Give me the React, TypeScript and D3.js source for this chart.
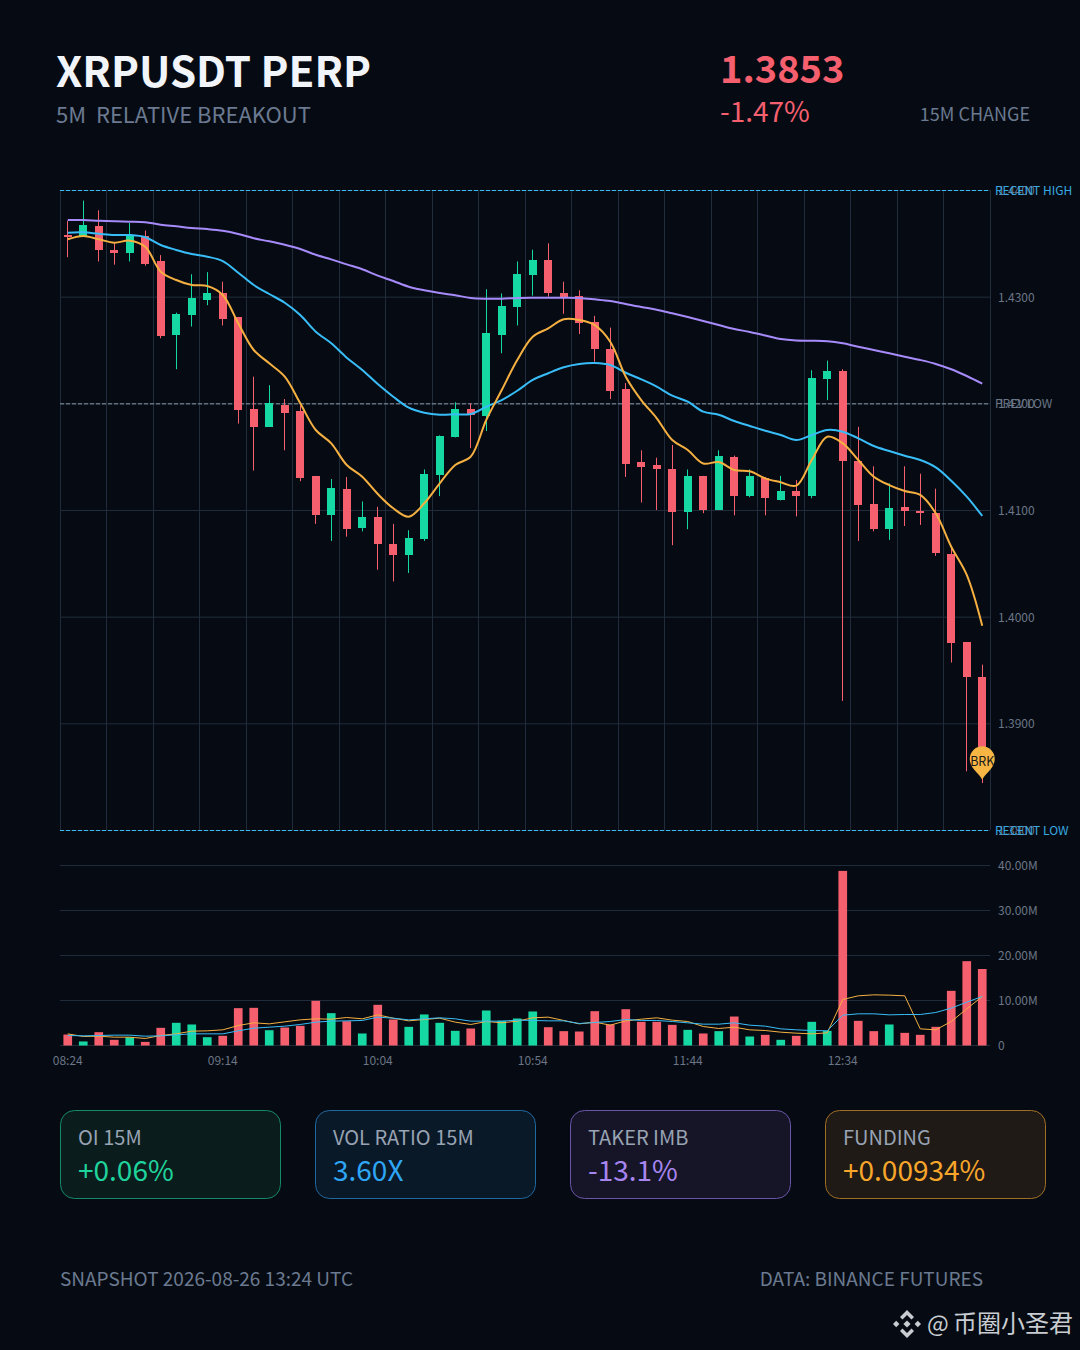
import React from 'react';
import * as d3 from 'd3';

const open = [1.4358,1.4357,1.4366,1.4344,1.4341,1.4357,1.4333,1.4264,1.4283,1.4297,1.4303,1.4281,1.4195,1.4178,1.4198,1.4193,1.4132,1.4095,1.4120,1.4083,1.4093,1.4068,1.4058,1.4073,1.4133,1.4168,1.4195,1.4188,1.4264,1.4290,1.4320,1.4334,1.4303,1.4301,1.4276,1.4251,1.4213,1.4145,1.4142,1.4138,1.4098,1.4132,1.4100,1.4150,1.4113,1.4130,1.4109,1.4118,1.4113,1.4223,1.4230,1.4146,1.4106,1.4082,1.4103,1.4099,1.4097,1.4059,1.3976,1.3943];
const high = [1.4371,1.4390,1.4381,1.4350,1.4369,1.4362,1.4339,1.4285,1.4321,1.4323,1.4314,1.4281,1.4225,1.4217,1.4204,1.4198,1.4132,1.4129,1.4131,1.4108,1.4103,1.4087,1.4081,1.4138,1.4170,1.4201,1.4200,1.4307,1.4303,1.4333,1.4344,1.4350,1.4314,1.4306,1.4282,1.4271,1.4219,1.4156,1.4149,1.4161,1.4138,1.4132,1.4156,1.4151,1.4138,1.4131,1.4132,1.4128,1.4231,1.4240,1.4232,1.4178,1.4141,1.4125,1.4141,1.4134,1.4120,1.4066,1.3976,1.3955];
const low = [1.4337,1.4357,1.4333,1.4330,1.4333,1.4329,1.4261,1.4232,1.4272,1.4292,1.4273,1.4181,1.4137,1.4178,1.4156,1.4127,1.4087,1.4071,1.4075,1.4080,1.4044,1.4033,1.4041,1.4071,1.4113,1.4168,1.4158,1.4174,1.4247,1.4273,1.4301,1.4300,1.4284,1.4265,1.4239,1.4204,1.4131,1.4107,1.4100,1.4067,1.4082,1.4097,1.4100,1.4095,1.4112,1.4095,1.4109,1.4094,1.4111,1.4203,1.3921,1.4071,1.4080,1.4072,1.4085,1.4086,1.4057,1.3957,1.3855,1.3844];
const close = [1.4356,1.4367,1.4344,1.4341,1.4357,1.4331,1.4263,1.4284,1.4299,1.4303,1.4279,1.4194,1.4178,1.4200,1.4191,1.4130,1.4095,1.4121,1.4082,1.4093,1.4068,1.4058,1.4074,1.4134,1.4169,1.4195,1.4189,1.4266,1.4291,1.4321,1.4334,1.4303,1.4300,1.4275,1.4251,1.4212,1.4143,1.4140,1.4138,1.4098,1.4132,1.4100,1.4151,1.4113,1.4132,1.4111,1.4118,1.4113,1.4224,1.4230,1.4146,1.4105,1.4082,1.4102,1.4099,1.4097,1.4060,1.3975,1.3943,1.3853];
const maFast = [1.43538,1.43569,1.43538,1.43506,1.43525,1.43468,1.43234,1.43156,1.43109,1.431,1.43016,1.4275,1.425,1.42375,1.4225,1.42,1.4175,1.41625,1.41422,1.41312,1.4115,1.41016,1.40937,1.41063,1.4125,1.41422,1.415,1.41844,1.42125,1.42406,1.42625,1.42703,1.42788,1.42781,1.42734,1.42578,1.4225,1.42031,1.4186,1.41656,1.41563,1.41436,1.4145,1.41375,1.41363,1.41297,1.4126,1.41228,1.41469,1.41687,1.41625,1.41469,1.41312,1.41234,1.41178,1.41141,1.40969,1.40656,1.40391,1.39915];
const maMid = [1.436,1.43603,1.4359,1.43578,1.43578,1.43557,1.43484,1.43438,1.434,1.43375,1.43334,1.43225,1.43109,1.43025,1.42943,1.42828,1.42672,1.42563,1.42428,1.42313,1.42181,1.42062,1.41959,1.41912,1.41893,1.41897,1.419,1.41968,1.42031,1.42118,1.42219,1.42282,1.42338,1.42369,1.42378,1.42359,1.42287,1.42225,1.42156,1.42072,1.42015,1.41922,1.41893,1.41834,1.41788,1.41743,1.41703,1.41656,1.41703,1.4175,1.41734,1.41672,1.416,1.41553,1.41509,1.41469,1.414,1.41275,1.41125,1.40944];
const maSlow = [1.43719,1.43719,1.43712,1.43707,1.43703,1.43697,1.43675,1.4366,1.43644,1.43634,1.43618,1.43588,1.43547,1.43519,1.43487,1.43447,1.43393,1.4335,1.43303,1.43257,1.43197,1.43147,1.43093,1.4306,1.43034,1.43013,1.42988,1.42981,1.42981,1.42988,1.4299,1.4299,1.4299,1.42988,1.42975,1.42959,1.42931,1.42903,1.42878,1.42844,1.42809,1.42772,1.42734,1.42697,1.42669,1.42636,1.42603,1.42589,1.42587,1.42582,1.42563,1.42531,1.425,1.42469,1.42437,1.42406,1.42369,1.42319,1.42256,1.42184];
const volume = [2.44,0.9,2.96,1.26,1.85,0.8,3.93,5.04,4.67,1.85,2.15,8.3,8.37,3.4,4.0,4.37,9.93,7.19,5.4,2.67,9.04,5.78,4.15,6.9,5.04,3.26,3.78,7.78,5.5,6.0,7.56,4.07,3.19,3.11,7.63,4.67,8.07,5.26,5.26,4.59,3.48,2.67,3.19,6.44,2.0,2.37,1.26,2.15,5.26,3.26,38.8,5.48,3.19,4.67,2.81,2.37,4.15,12.15,18.74,17.0];
const volFast = [2.59,2.0,2.07,1.85,1.85,1.56,2.22,2.59,3.19,3.26,3.48,4.44,5.04,4.81,5.26,5.7,5.93,5.85,6.22,5.93,6.81,6.07,5.48,5.78,6.07,5.19,4.67,5.33,5.04,5.41,6.15,6.3,5.56,4.81,5.19,4.52,5.48,5.85,6.15,5.63,5.33,4.22,3.78,4.07,3.48,3.33,2.96,2.74,2.59,2.81,10.22,11.04,11.26,11.19,11.04,3.7,3.48,5.33,8.15,10.89];
const volSlow = [2.22,2.15,2.22,2.3,2.3,2.07,2.15,2.37,2.59,2.59,2.59,3.26,3.85,4.07,4.3,4.67,5.19,5.41,5.48,5.56,6.3,6.07,5.7,5.93,6.15,5.93,5.41,5.41,5.41,5.63,5.56,5.48,5.48,4.89,5.11,5.33,5.78,5.56,5.56,5.33,5.04,4.74,4.74,5.04,4.52,4.3,3.7,3.48,3.33,3.26,6.74,7.04,7.04,6.81,6.89,6.89,7.33,8.3,9.63,10.89];
const priceTicks = [1.44,1.43,1.42,1.41,1.4,1.39,1.38];
const volumeTicks = [0,10,20,30,40];
const timeLabels = ['08:24','09:14','10:04','10:54','11:44','12:34'];
const timeLabelEvery = 10;
const verticalGridEvery = 3;
const recentHigh = 1.44;
const recentLow = 1.38;
const prevLevel = 1.42;
const breakoutPrice = 1.3847;
const cards = [
  { label: 'OI 15M', value: '+0.06%', fg: '#1fd49c', fill: '#0b1c1d', edge: '#158a68' },
  { label: 'VOL RATIO 15M', value: '3.60X', fg: '#2ea6f5', fill: '#0a1928', edge: '#2068a0' },
  { label: 'TAKER IMB', value: '-13.1%', fg: '#a685f0', fill: '#161527', edge: '#6a55a8' },
  { label: 'FUNDING', value: '+0.00934%', fg: '#f7a62b', fill: '#1f1a15', edge: '#a06e25' },
];

const FONT = '"Noto Sans CJK SC", "Noto Sans", sans-serif';
const BG = '#060b13';
const UP = '#16d8a2';
const DOWN = '#f55f6e';
const GRID = '#202c3c';
const AXIS = '#6b7686';
const MUTED = '#6b7a90';
const L = 60, R = 990;

export default function App() {
  const idx = d3.range(open.length);
  const x = d3.scaleBand<number>().domain(idx).range([L, R]);
  const cx = (i: number) => (x(i) as number) + x.bandwidth() / 2;
  const y = d3.scaleLinear().domain([1.38, 1.44]).range([830, 190]);
  const yv = d3.scaleLinear().domain([0, 40]).range([1045.5, 865.5]);
  const priceLine = (vals: number[]) =>
    d3.line<number>().x((_, i) => cx(i)).y(v => y(v)).curve(d3.curveCatmullRom.alpha(0.5))(vals) as string;
  const volLine = (vals: number[]) =>
    d3.line<number>().x((_, i) => cx(i)).y(v => yv(v))(vals) as string;
  const vLines = d3.range(0, open.length + 1, verticalGridEvery).map(k => L + k * x.bandwidth());
  const fmtPrice = d3.format('.4f');
  const fmtVol = (v: number) => (v === 0 ? '0' : `${v.toFixed(2)}M`);
  const tipX = cx(open.length - 1), tipY = y(breakoutPrice);
  const pin = `M${tipX},${tipY} C${tipX - 2},${tipY - 6} ${tipX - 12.5},${tipY - 11} ${tipX - 12.5},${tipY - 21} A12.5,12.5 0 1 1 ${tipX + 12.5},${tipY - 21} C${tipX + 12.5},${tipY - 11} ${tipX + 2},${tipY - 6} ${tipX},${tipY} Z`;

  return (
    <svg width={1080} height={1350} viewBox="0 0 1080 1350"
      style={{ position: 'absolute', left: 0, top: 0, display: 'block', fontFamily: FONT }}>
      <rect width={1080} height={1350} fill={BG} />

      <text x={56} y={86.5} fontSize={42} fontWeight={700} fill="#f1f5f9">XRPUSDT PERP</text>
      <text x={56} y={123} fontSize={22} fill={MUTED} xmlSpace="preserve">5M  RELATIVE BREAKOUT</text>
      <text x={720} y={83} fontSize={38} fontWeight={700} fill={DOWN}>1.3853</text>
      <text x={720} y={122} fontSize={28} fill={DOWN}>-1.47%</text>
      <text x={1030} y={121} fontSize={18} textAnchor="end" fill={MUTED}>15M CHANGE</text>

      {priceTicks.map(t => <line key={t} x1={L} x2={R} y1={y(t) + 0.5} y2={y(t) + 0.5} stroke={GRID} />)}
      {vLines.map(v => <line key={v} x1={Math.floor(v) + 0.5} x2={Math.floor(v) + 0.5} y1={190} y2={830} stroke={GRID} />)}

      <line x1={L} x2={R} y1={y(recentHigh) + 0.5} y2={y(recentHigh) + 0.5} stroke="#38bdf8" strokeDasharray="4 2" />
      <line x1={L} x2={R} y1={y(recentLow) + 0.5} y2={y(recentLow) + 0.5} stroke="#38bdf8" strokeDasharray="4 2" />
      <line x1={L} x2={R} y1={y(prevLevel) + 0.5} y2={y(prevLevel) + 0.5} stroke="#8a97a8" strokeDasharray="4 2" />

      {priceTicks.map(t => <text key={t} x={998} y={y(t) + 5} fontSize={12} fill={AXIS}>{fmtPrice(t)}</text>)}
      <text x={995} y={y(recentHigh) + 5} fontSize={12} fill="#38a9e0">RECENT HIGH</text>
      <text x={995} y={y(recentLow) + 5} fontSize={12} fill="#38a9e0">RECENT LOW</text>
      <text x={995} y={y(prevLevel) + 5} fontSize={12} fill={AXIS}>PREV LOW</text>

      {idx.map(i => {
        const c = close[i] >= open[i] ? UP : DOWN;
        const top = Math.round(y(Math.max(open[i], close[i])));
        const bot = Math.round(y(Math.min(open[i], close[i])));
        const wick = Math.floor(cx(i)) + 0.5;
        return (
          <g key={i}>
            <line x1={wick} x2={wick} y1={y(high[i])} y2={y(low[i])} stroke={c} strokeWidth={1} />
            <rect x={Math.round(cx(i) - 4)} y={top} width={8} height={Math.max(bot - top, 2)} fill={c} />
          </g>
        );
      })}

      <path d={priceLine(maSlow)} fill="none" stroke="#a78bfa" strokeWidth={2} />
      <path d={priceLine(maMid)} fill="none" stroke="#38bdf8" strokeWidth={2} />
      <path d={priceLine(maFast)} fill="none" stroke="#f5b041" strokeWidth={2} />

      <path d={pin} fill="#f7b544" />
      <text x={tipX} y={tipY - 14} fontSize={12.5} textAnchor="middle" fill="#1a1a1a">BRK</text>

      {volumeTicks.map(t => (
        <g key={t}>
          <line x1={L} x2={R} y1={yv(t)} y2={yv(t)} stroke={GRID} />
          <text x={998} y={yv(t) + 4.5} fontSize={12} fill={AXIS}>{fmtVol(t)}</text>
        </g>
      ))}
      {idx.map(i => (
        <rect key={i} x={cx(i) - 4.34} y={yv(volume[i])} width={8.68} height={yv(0) - yv(volume[i])}
          fill={close[i] >= open[i] ? UP : DOWN} />
      ))}
      <path d={volLine(volFast)} fill="none" stroke="#f5b041" strokeWidth={1} />
      <path d={volLine(volSlow)} fill="none" stroke="#38bdf8" strokeWidth={1} />
      {timeLabels.map((t, k) => (
        <text key={t} x={cx(k * timeLabelEvery)} y={1065} fontSize={12} textAnchor="middle" fill={AXIS}>{t}</text>
      ))}

      {cards.map((c, k) => {
        const cardX = 60.5 + k * 255;
        return (
          <g key={c.label}>
            <rect x={cardX} y={1110.5} width={220} height={88} rx={14} fill={c.fill} stroke={c.edge} />
            <text x={cardX + 17.5} y={1145} fontSize={20} fill="#98a3b3">{c.label}</text>
            <text x={cardX + 17.5} y={1181} fontSize={28} fill={c.fg}>{c.value}</text>
          </g>
        );
      })}

      <text x={60} y={1286} fontSize={19} fill={MUTED}>SNAPSHOT 2026-08-26 13:24 UTC</text>
      <text x={983} y={1286} fontSize={19} textAnchor="end" fill={MUTED}>DATA: BINANCE FUTURES</text>

      <g fill="#c9cdd2" transform="translate(907,1324)">
        <path d="M0,-14 L7,-7 L4.5,-4.5 L0,-9 L-4.5,-4.5 L-7,-7 Z" />
        <path d="M0,14 L7,7 L4.5,4.5 L0,9 L-4.5,4.5 L-7,7 Z" />
        <path d="M0,-3.6 L3.6,0 L0,3.6 L-3.6,0 Z" />
        <path d="M-14,0 L-10.8,-3.2 L-7.6,0 L-10.8,3.2 Z" />
        <path d="M14,0 L10.8,-3.2 L7.6,0 L10.8,3.2 Z" />
      </g>
      <text x={927} y={1332} fontSize={23} fill="#c9cdd2">@</text>
      <text x={953} y={1332} fontSize={24} fill="#c9cdd2">币圈小圣君</text>
    </svg>
  );
}
